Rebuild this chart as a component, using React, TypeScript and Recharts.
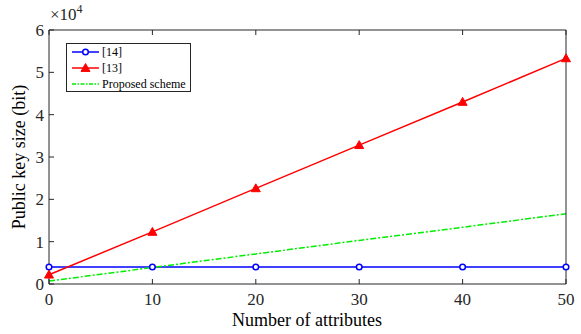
import React from 'react';
import { LineChart, Line, XAxis, YAxis, Legend } from 'recharts';

const attributes = [0, 10, 20, 30, 40, 50];
const ref14 = [4000, 4000, 4000, 4000, 4000, 4000];
const ref13 = [2200, 12300, 22600, 32800, 43000, 53300];
const proposed = [700, 3900, 7100, 10300, 13400, 16600];
const yTicks = [0, 10000, 20000, 30000, 40000, 50000, 60000];
const xTicks = [0, 10, 20, 30, 40, 50];

const data = attributes.map((a, i) => ({ a, r14: ref14[i], r13: ref13[i], p: proposed[i] }));

const FONT = "'Liberation Serif', 'Times New Roman', serif";
const AX = '#262626';
const BLUE = '#0000ff';
const RED = '#ff0000';
const GREEN = '#00ee00';

const BottomTick = (props: any) => {
  const { x, y, payload } = props;
  return (
    <g>
      <line x1={x} y1={y} x2={x} y2={y - 5} stroke={AX} strokeWidth={1} />
      <text x={x} y={y + 21} textAnchor="middle" style={{ fontFamily: FONT }} fontSize={17} fill={AX}>{payload.value}</text>
    </g>
  );
};
const TopTick = (props: any) => {
  const { x, y } = props;
  return <line x1={x} y1={y} x2={x} y2={y + 5} stroke={AX} strokeWidth={1} />;
};
const LeftTick = (props: any) => {
  const { x, y, payload } = props;
  return (
    <g>
      <line x1={x} y1={y} x2={x + 5} y2={y} stroke={AX} strokeWidth={1} />
      <text x={x - 5} y={y + 6} textAnchor="end" style={{ fontFamily: FONT }} fontSize={17} fill={AX}>{payload.value / 10000}</text>
    </g>
  );
};
const RightTick = (props: any) => {
  const { x, y } = props;
  return <line x1={x} y1={y} x2={x - 5} y2={y} stroke={AX} strokeWidth={1} />;
};

const Tri = (props: any) => {
  const { cx, cy, index } = props;
  if (cx == null || cy == null) return <g key={index} />;
  const s = 4.5;
  return (
    <polygon key={index} points={`${cx},${cy - s} ${cx - s},${cy + s * 0.75} ${cx + s},${cy + s * 0.75}`} fill={RED} stroke={RED} strokeWidth={1} />
  );
};

const LegendBox = () => (
  <div style={{ border: `1px solid ${AX}`, background: '#fff', width: 123, height: 47, position: 'relative' }}>
    <svg width={123} height={47} style={{ position: 'absolute', left: 0, top: 0 }}>
      <line x1={5} y1={8} x2={32} y2={8} stroke={BLUE} strokeWidth={1.5} />
      <circle cx={18.5} cy={8} r={2.8} fill="#fff" stroke={BLUE} strokeWidth={1.5} />
      <line x1={5} y1={24} x2={32} y2={24} stroke={RED} strokeWidth={1.5} />
      <polygon points="18.5,19.5 14,27.4 23,27.4" fill={RED} stroke={RED} />
      <line x1={5} y1={40} x2={32} y2={40} stroke={GREEN} strokeWidth={1.5} strokeDasharray="4 1.5 1.5 1.5" />
      <text x={35} y={12} style={{ fontFamily: FONT }} fontSize={12} fill="#000">[14]</text>
      <text x={35} y={28} style={{ fontFamily: FONT }} fontSize={12} fill="#000">[13]</text>
      <text x={35} y={44} style={{ fontFamily: FONT }} fontSize={12} fill="#000">Proposed scheme</text>
    </svg>
  </div>
);

export default function App() {
  return (
    <div style={{ position: 'absolute', left: 0, top: 0, width: 581, height: 334, background: '#fff' }}>
      <LineChart width={581} height={334} data={data} margin={{ top: 29, right: 14, bottom: 49, left: 48 }}>
        <XAxis dataKey="a" type="number" domain={[0, 50]} ticks={xTicks} xAxisId={0} height={1} stroke={AX} tickLine={false} tickSize={0} tickMargin={0} tick={<BottomTick />} interval={0} />
        <XAxis dataKey="a" type="number" domain={[0, 50]} ticks={xTicks} xAxisId="top" orientation="top" height={1} stroke={AX} tickLine={false} tickSize={0} tickMargin={0} tick={<TopTick />} interval={0} />
        <YAxis type="number" domain={[0, 60000]} ticks={yTicks} yAxisId={0} width={1} stroke={AX} tickLine={false} tickSize={0} tickMargin={0} tick={<LeftTick />} interval={0} />
        <YAxis type="number" domain={[0, 60000]} ticks={yTicks} yAxisId="right" orientation="right" width={1} stroke={AX} tickLine={false} tickSize={0} tickMargin={0} tick={<RightTick />} interval={0} />
        <Line dataKey="r14" stroke={BLUE} strokeWidth={1.5} isAnimationActive={false} dot={{ r: 2.8, fill: '#fff', stroke: BLUE, strokeWidth: 1.5 }} />
        <Line dataKey="r13" stroke={RED} strokeWidth={1.5} isAnimationActive={false} dot={<Tri />} />
        <Line dataKey="p" stroke={GREEN} strokeWidth={1.5} isAnimationActive={false} dot={false} strokeDasharray="6 2 2 2" />
        <Legend layout="vertical" align="center" verticalAlign="middle" content={<LegendBox />} wrapperStyle={{ position: 'absolute', left: 66, top: 43, width: 125, height: 49 }} />
      </LineChart>
      <div style={{ position: 'absolute', left: 50, top: 2, fontFamily: FONT, fontSize: 17, color: AX }}>
        ×10<sup style={{ fontSize: 12 }}>4</sup>
      </div>
      <div style={{ position: 'absolute', left: 307, top: 311, transform: 'translateX(-50%)', fontFamily: FONT, fontSize: 18, lineHeight: '18px', color: '#000', whiteSpace: 'nowrap' }}>
        Number of attributes
      </div>
      <div style={{ position: 'absolute', left: 19, top: 157, transform: 'translate(-50%, -50%) rotate(-90deg)', fontFamily: FONT, fontSize: 18, lineHeight: '18px', color: '#000', whiteSpace: 'nowrap' }}>
        Public key size (bit)
      </div>
    </div>
  );
}
